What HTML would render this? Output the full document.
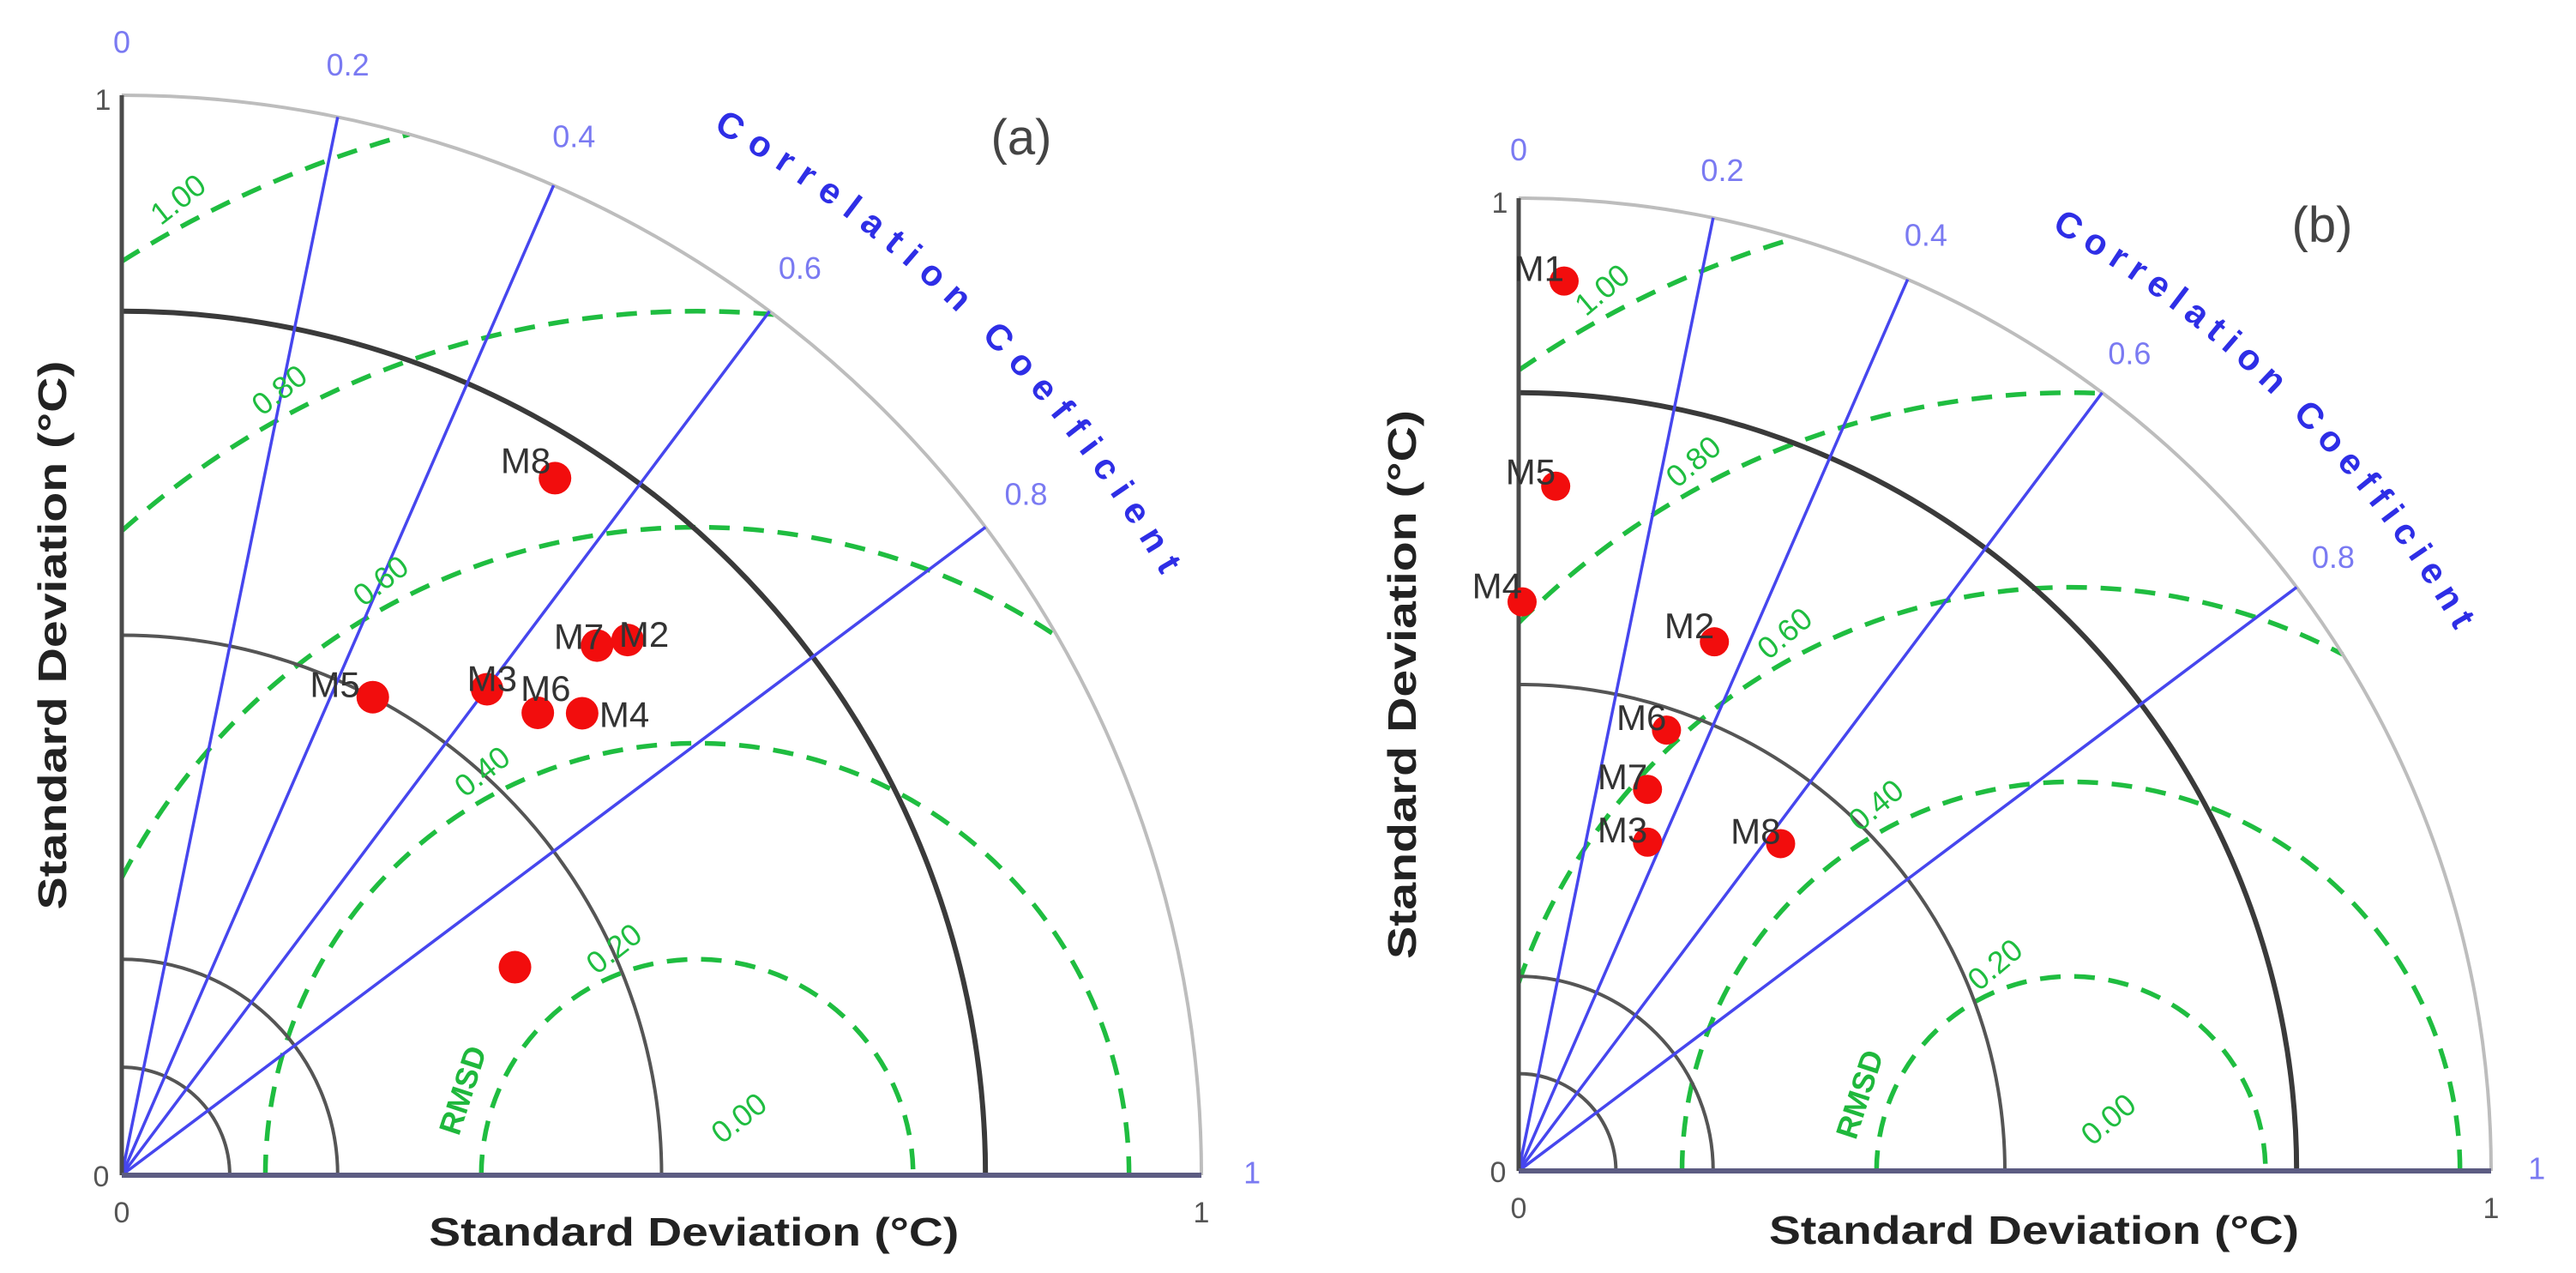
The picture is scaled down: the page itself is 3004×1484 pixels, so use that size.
<!DOCTYPE html>
<html>
<head>
<meta charset="utf-8">
<style>
html,body{margin:0;padding:0;background:#fff;width:3004px;height:1484px;overflow:hidden;}
svg{display:block;overflow:hidden;}
text{font-family:"Liberation Sans",sans-serif;}
</style>
</head>
<body>
<svg id="chart" xmlns="http://www.w3.org/2000/svg" width="3004" height="1484" viewBox="0 0 3004 1484">
<rect x="0" y="0" width="3004" height="1484" fill="#fff"/>
</svg>
<script>
// ---- data ----
const models = ["M1","M2","M3","M4","M5","M6","M7","M8"];
const stdA  = [0.412,0.682,0.563,0.604,0.500,0.576,0.659,0.760];
const corrA = [0.884,0.687,0.601,0.706,0.465,0.669,0.668,0.528];
const stdB  = [0.916,0.580,0.363,0.585,0.705,0.478,0.414,0.431];
const corrB = [0.051,0.347,0.365,0.006,0.054,0.318,0.320,0.625];
const refStdA = 0.533;
const refStdB = 0.568;
const corrLines = [0.2,0.4,0.6,0.8];
const corrTickLabels = ["0","0.2","0.4","0.6","0.8","1"];
const corrTickValues = [0,0.2,0.4,0.6,0.8,1];
const stdArcs = [0.1,0.2,0.5,0.8];
const rmsdTicks = [0.2,0.4,0.6,0.8,1.0];
const rmsdTickLabels = ["0.20","0.40","0.60","0.80","1.00"];

const NS = "http://www.w3.org/2000/svg";
const svg = document.getElementById("chart");
function mk(tag, attrs, parent){
  const e = document.createElementNS(NS, tag);
  for (const k in attrs) e.setAttribute(k, attrs[k]);
  (parent||svg).appendChild(e);
  return e;
}

const panels = [
  {id:"a", ox:142, oy:1370, R:1259, std:stdA, corr:corrA, ref:refStdA, title:"(a)", tx:1191, ty:180, dotR:19,
   labAnchor:["none","start","end","start","end","start","end","end"],
   labDx:[0,-10,35,20,-15,-20,8,-5], labDy:[0,8,2,16,0,-14,4,-6],
   yTitleX:65, xTitleY:1452, rmsdRot:-38},
  {id:"b", ox:1771, oy:1365, R:1134, std:stdB, corr:corrB, ref:refStdB, title:"(b)", tx:2708, ty:282, dotR:17,
   labAnchor:["end","end","end","end","end","end","end","end"],
   labDx:[0,0,0,0,0,0,0,0], labDy:[0,-4,0,-4,-2,0,0,0],
   yTitleX:1639, xTitleY:1450, rmsdRot:-40}
];

panels.forEach(p => {
  const g = mk("g", {});
  
  
  const ox=p.ox, oy=p.oy, R=p.R;
  const P = (s, ang) => [ox + s*R*Math.cos(ang), oy - s*R*Math.sin(ang)];

  const cx = ox + p.ref*R;
  const d = cx - ox;
  rmsdTicks.forEach((v,i) => {
    const r = v*R;
    // left end
    let lx, ly;
    if (r > d) { lx = ox; ly = oy - Math.sqrt(r*r - d*d); } else { lx = cx - r; ly = oy; }
    // right end
    let rx, ry;
    if (cx + r > ox + R) {
      const xx = (R*R - r*r + d*d) / (2*d);
      rx = ox + xx; ry = oy - Math.sqrt(Math.max(0, R*R - xx*xx));
    } else { rx = cx + r; ry = oy; }
    const c = mk("path", {d:`M${lx},${ly} A${r},${r} 0 0 1 ${rx},${ry}`, fill:"none", stroke:"#1fbd40", "stroke-width":5.5, "stroke-dasharray":"24 16"}, g);
    
    
  });

  stdArcs.forEach(s => {
    const r = s*R;
    const a = mk("path", {d:`M${ox+r},${oy} A${r},${r} 0 0 0 ${ox},${oy-r}`, fill:"none", stroke: s===0.8?"#3a3a3a":"#555", "stroke-width": s===0.8?6:4}, g);
    
    
  });
  const oa = mk("path", {d:`M${ox+R},${oy} A${R},${R} 0 0 0 ${ox},${oy-R}`, fill:"none", stroke:"#bdbdbd", "stroke-width":4}, g);
  
  

  corrLines.forEach(c => {
    const ang = Math.acos(c);
    const [x2,y2] = P(1, ang);
    const l = mk("line", {x1:ox, y1:oy, x2:x2, y2:y2, stroke:"#4646ee", "stroke-width":3.5}, g);
    
    
  });

  const ya = mk("line", {x1:ox, y1:oy, x2:ox, y2:oy-R, stroke:"#4a4a4a", "stroke-width":5}, g);
  
  
  const xa = mk("line", {x1:ox, y1:oy, x2:ox+R, y2:oy, stroke:"#5c5c82", "stroke-width":6}, g);
  
  

  corrTickValues.forEach((c,i) => {
    const [x,y] = P(1.047, Math.acos(c));
    const t = mk("text", {x:x, y:y, "text-anchor":"middle", "dominant-baseline":"middle", "font-size":36, fill:"#7a7af2"}, g);
    t.textContent = corrTickLabels[i];
    
    
  });

  [[ox-22, oy-R+8, "1"], [ox-24, oy+4, "0"], [ox, oy+46, "0"], [ox+R, oy+46, "1"]].forEach(dd => {
    const t = mk("text", {x:dd[0], y:dd[1], "text-anchor":"middle", "dominant-baseline":"middle", "font-size":34, fill:"#555"}, g);
    t.textContent = dd[2];
    
    
  });

  rmsdTicks.forEach((v,i) => {
    const ang = (v===0.2 ? 110 : 118) * Math.PI/180;
    const rr = v*R + 27;
    const x = cx + rr*Math.cos(ang), y = oy - rr*Math.sin(ang);
    const t = mk("text", {x:x, y:y, "text-anchor":"middle", "dominant-baseline":"middle", "font-size":36, fill:"#1fbd40", transform:`rotate(${p.rmsdRot} ${x} ${y})`}, g);
    t.textContent = rmsdTickLabels[i];
    
    
  });
  {
    const r0 = 0.065*R, a0 = 52*Math.PI/180;
    const x = cx + r0*Math.cos(a0), y = oy - r0*Math.sin(a0);
    const t = mk("text", {x:x, y:y, "text-anchor":"middle", "dominant-baseline":"middle", "font-size":36, fill:"#1fbd40", transform:`rotate(${p.rmsdRot} ${x} ${y})`}, g);
    t.textContent = "0.00";
    
    
    const rx = ox + (p.ref - 0.215)*R, ry = oy - 0.078*R;
    const rm = mk("text", {x:rx, y:ry, "text-anchor":"middle", "dominant-baseline":"middle", "font-size":36, "font-weight":"bold", fill:"#1fb83c", transform:`rotate(-72 ${rx} ${ry})`}, g);
    rm.textContent = "RMSD";
    
    
  }

  const rt = 1.112*R;
  const a1 = 60.5*Math.PI/180, a2 = 29.5*Math.PI/180;
  const [sx,sy] = P(1.112, a1), [ex,ey] = P(1.112, a2);
  mk("path", {id:"cc-path-"+p.id, d:`M${sx},${sy} A${rt},${rt} 0 0 1 ${ex},${ey}`, fill:"none"}, g);
  const ct = mk("text", {"font-size":42, "font-weight":"bold", fill:"#2e2ee6"}, g);
  
  
  const tp = mk("textPath", {href:"#cc-path-"+p.id, textLength: (rt*(a1-a2)*0.985).toFixed(0), lengthAdjust:"spacing"}, ct);
  tp.textContent = "Correlation Coefficient";

  const xt = mk("text", {x:ox + 0.53*R, y:p.xTitleY, "text-anchor":"middle", "font-size":46, "font-weight":"bold", fill:"#222", textLength:618, lengthAdjust:"spacingAndGlyphs"}, g);
  xt.textContent = "Standard Deviation (\u00B0C)";
  
  
  const yy = oy - 0.5*R;
  const yt = mk("text", {x:p.yTitleX, y:yy, "text-anchor":"middle", "dominant-baseline":"middle", "font-size":46, "font-weight":"bold", fill:"#222", transform:`rotate(-90 ${p.yTitleX} ${yy})`, textLength:640, lengthAdjust:"spacingAndGlyphs"}, g);
  yt.textContent = "Standard Deviation (\u00B0C)";
  
  

  const pt = mk("text", {x:p.tx, y:p.ty, "text-anchor":"middle", "font-size":58, fill:"#444"}, g);
  pt.textContent = p.title;
  
  

  models.forEach((m,i) => {
    const s = p.std[i], c = p.corr[i];
    const [x,y] = P(s, Math.acos(c));
    const dot = mk("circle", {cx:x, cy:y, r:p.dotR, fill:"#f20d0d"}, g);
    
    
    if (p.labAnchor[i] !== "none") {
      const t = mk("text", {x:x + p.labDx[i], y:y + p.labDy[i], "text-anchor":p.labAnchor[i], "font-size":42, fill:"#333"}, g);
      t.textContent = m;
      
      
    }
  });
});
</script>
</body>
</html>
